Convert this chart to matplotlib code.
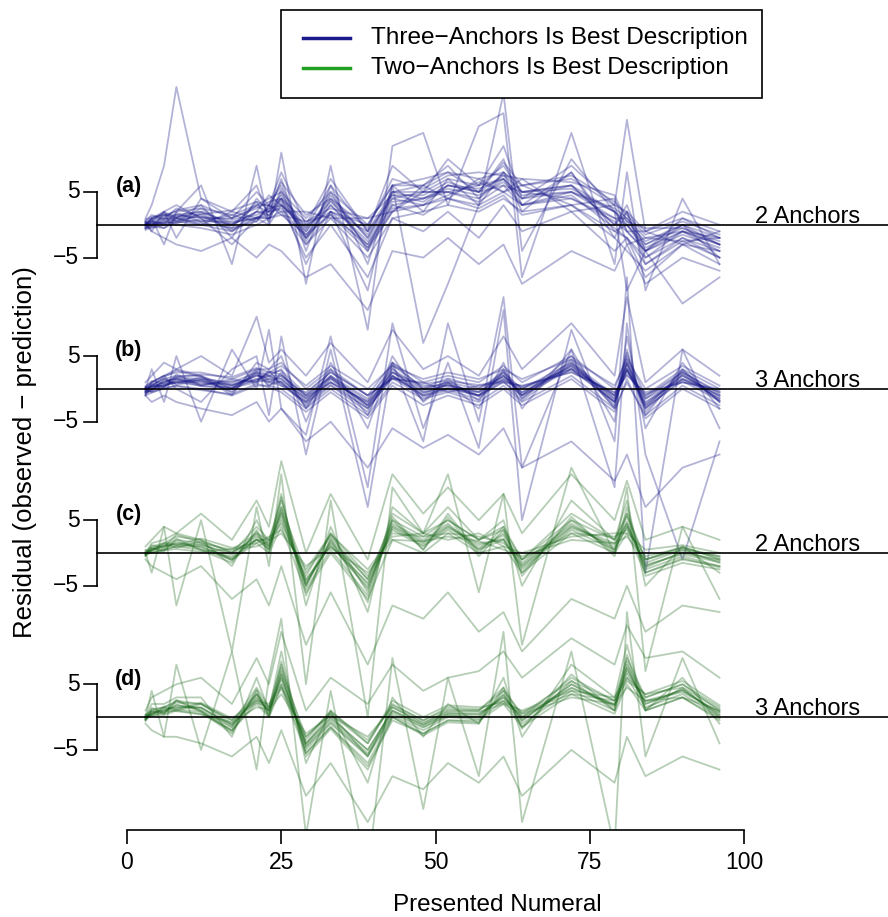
import matplotlib
matplotlib.use('Agg')
import matplotlib.pyplot as plt
from matplotlib.patches import Rectangle
from matplotlib.lines import Line2D

# presented numerals (x) shared by every residual curve
numerals = [3, 4, 6, 8, 12, 17, 21, 23, 25, 29, 33, 39, 43, 48, 52, 57, 61, 64, 72, 79, 81, 84, 90, 96]

# (a) three-anchor subjects, residuals from the 2-anchor model
panel_a = [
    [0.5, 1, 1.5, 1.5, 2, 0, 3, 3, 6, -2, 5, -4, 5, 5, 7, 6, 9, 5, 6, 0, 2, -5, -1, -4],
    [-0.5, -0.5, 0, 0, -0.5, -1.5, 0, 1, 2, -3, 1, -5, 1, 2, 3, 2, 4, 2, 3, -1, -2, -5, -2, -4],
    [0.8, 1.2, 1.5, 2, 2.5, 1.5, 3, 4, 5, 1, 5, 0, 6, 6, 8, 7, 8, 6, 7, 3, 2, -1, 1, -1],
    [0, 0, 1, 0.5, 1.5, -1, 2, 2, 4, -2, 3, -3, 3, 4, 5, 4, 7, 3, 5, 2, 0, -3, 0, -3],
    [-0.3, 0.5, 0.2, 1, 0.5, 0.5, 1, 1.5, 3, 0, 2, -1, 4, 3, 6, 5, 6, 5, 4, 1, 1, -2, -1, -2],
    [0.3, 0, 0.8, 1.5, 1, 1, 2.5, 3.5, 4, -1, 4, -2, 4, 5, 5, 6, 7, 4, 6, 2, -1, -4, -1, -3],
    [0, 1, 2, 1, 3, -2, 4, 2, 7, -4, 6, -6, 6, 7, 8, 5, 10, 3, 8, -2, 2, -6, -2, -5],
    [-0.8, -0.3, -0.5, 0.5, 0, -1, 1, 2, 2.5, -2, 2, -3.5, 2.5, 3, 4, 3, 5, 3, 4, 0.5, -1, -4, -1.5, -3.5],
    [0.2, 0.6, 1, 1, 1.2, 0.8, 1.5, 2.5, 4.5, -0.5, 3.5, -1.5, 4.5, 4.5, 6.5, 5, 7.5, 5, 5.5, 2, 0.5, -2.5, 0, -2],
    [0, -0.2, 0.3, 0.3, 0.8, 0, 2, 1.5, 3.5, -1.5, 3, -2.5, 3.5, 4, 5.5, 4.5, 6.5, 4, 5, 1, 0, -3.5, -1, -3],
    [1, 3, 9, 21, 4, 1, 5, 3, 8, 0, 7, -1, 9, 5, 10, 6, 12, 4, 9, 3, 16, -1, 2, 0],
    [0.5, -1, -2, -3, -4, -2, -5, -3, -4, -8, -6, -13, -4, -5, -2, -6, -3, -9, -4, -7, -3, -9, -5, -7],
    [-0.5, 0, 0.5, 1.2, 2, 0.3, 1, 2.5, 3, -1, 4.5, -2, 5, 4, 6, 5.5, 7, 4.5, 5, 2.5, 1, -3, -0.5, -2.5],
    [0, 1, -3, 2, 6, -6, 9, 0, 11, -9, 9, -16, 12, 14, 3, 15, 17, -8, 14, -6, 8, -10, 4, -6],
    [0.3, 0.5, 0.2, 1.8, 0.5, 1.5, 0.5, 3, 2, 2, 1, 1, 2, 6, 4, 7, 5, 6, 3, 4, -1, -1, -3, -1],
    [-0.2, 0.8, 1.8, 0.5, 2.5, -0.5, 3.5, 0.5, 5, -3, 2, 0, 6, 2, 7, 3, 8, 2, 8, -1, 0, -4, 0, -5],
    [0, 0.2, -0.5, 1, 0, 2, 1, 1, 1.5, 0.5, 1.5, -4, 2, 3, 4.5, 6.5, 5, 7, 2, 3, -3, -2, -2.5, -2],
    [0.6, 1.5, 0.8, 2.5, 1.2, 0, 2, 4.5, 3, -0.5, 6, -1, 5, 6, 9, 4, 8, 5, 6, 0, 3, -4, 1, -2],
    [-0.4, -0.2, 0.6, 0.2, 1.8, -0.8, 1.2, 1, 5.5, -2.5, 3.8, -3.5, 2, 5, 5, 3.5, 6, 3, 4.5, -0.5, -2, -6, -2.5, -5],
    [0.1, 0.9, 1.2, 2.2, 3, 1, 2.8, 2, 4, 0.5, 2.5, 1, 4.5, 3.5, 6, 5, 9.5, 6, 7.5, 3.5, 1.5, -1.5, 0.5, -1.5],
    [-0.6, 0.4, 0, 0.8, 0.3, -0.5, 0.5, 3, 1.5, -1.5, 1.5, -3, 3, 1.5, 4, 2.5, 4.5, 1.5, 3, -2, -4, -7, -3, -6],
    [0.4, 0.1, 1.4, 1.2, 1.6, 2.2, 3.5, 2.8, 6.5, 1.5, 4, -0.5, 7, 5.5, 7.5, 8, 7.5, 7, 6.5, 4.5, 0.5, -0.5, -0.5, -3],
    [0, 0.5, 2, 3, 1, -3, 1, 0, 3, -5, 0, -8, 1, -1, 2, -2, 3, -1, 2, -4, -2, -8, -3, -4],
    [0, -1, 2, -2, 4, 2, 6, 1, 4, -6, 2, -10, 6, -18, -9, 3, 20, -4, 10, 2, -10, -4, -12, -8],
]

# (b) three-anchor subjects, residuals from the 3-anchor model
panel_b = [
    [-0.4, 0.5, 1.5, 2, 2, 0, 3, 2, 3, -3, 3, -4, 4, 0, 1, -1, 3, -1, 5, -3, 6, -4, 3, -2],
    [0, -0.5, 0, 0.5, 0, -1, 0.5, 0.5, 0, -3, 0, -4, 1, -1.5, -0.5, -2, 0.5, -2, 2, -3, 1, -4, 0.5, -2.5],
    [0.3, 1, 2, 2.5, 2.5, 1.5, 3, 3, 4, 0, 3, -1, 4, 1, 2, 1, 3.5, 1, 5, 0, 5, -1, 3, 0],
    [-0.8, 0, 0.5, 1, 1, 0, 1.5, 1, 0.5, -2, 1, -3, 2, -1, 0, -1, 1, -1, 3, -2, 3, -3, 1.5, -1.5],
    [-0.2, 0.3, 1, 1.8, 1.5, 1, 2.5, 2, 2, -1, 2, -1.5, 3, 0, 1, 0, 2.5, 0, 4, -1, 4, -1.5, 2.5, -0.5],
    [-0.5, -0.2, 0.8, 1, 0.5, 0.2, 1, 1.5, 1, -2.5, 1.5, -2.5, 2, -0.5, 0.5, -1, 2, -0.5, 3, -2, 3, -2.5, 2, -1],
    [-1, 1, 2, 3, 2, -1, 4, 3, 5, -5, 4, -6, 5, -2, 1, -3, 4, -3, 6, -5, 8, -6, 4, -3],
    [0, 0.5, 0.5, 1, 1.5, 0.5, 2, 1.5, 1.5, -1.5, 1, -2, 2.5, -0.5, 0, -0.5, 1.5, -0.5, 3.5, -1.5, 3, -2, 1.5, -1],
    [-0.6, 0, 1.2, 1.5, 0.8, 0.8, 1.5, 2, 1, -2, 2, -2.5, 2.5, 0.5, 0.5, -0.5, 2, -1, 3.5, -2, 4, -2.5, 2, -1.5],
    [0.2, 0.2, 0.6, 1.2, 1.2, 0.2, 2.2, 1, 2, -1.2, 1, -2, 2, -1, 0.2, -1, 1.5, 0, 3, -1, 3, -1.5, 1.5, -0.5],
    [1, 2, 4, 3, 5, 2, 11, 4, 6, 2, 7, 1, 9, 3, 5, 2, 8, 3, 10, 2, 14, 1, 6, 2],
    [-1, -2, -1, -2, -3, -4, -2, -5, -3, -8, -5, -12, -6, -9, -7, -10, -6, -12, -8, -14, -10, -18, -12, -10],
    [0, 3, -2, 5, -5, 6, 0, 9, -3, -7, 8, -15, 10, -6, 4, -9, 12, -20, 9, -8, 17, -28, 6, -6],
    [-0.3, 0.2, 1, 1.6, 1.2, 0.5, 2, 1.8, 1.6, -1.8, 1.6, -2.4, 2.6, -0.2, 0.6, -0.4, 2.2, -0.8, 3.8, -1.4, 3.8, -2.2, 2.2, -1.2],
    [0.2, 0.8, 0.3, 2.2, 0.5, 1.5, 1, 2.8, 0.5, -0.5, 2.5, -1, 1.5, 1, -0.5, 0.5, 1, 0.5, 2.5, -0.5, 2, -0.5, 1, 0],
    [-0.7, -0.3, 1.4, 0.8, 1.8, -0.6, 2.6, 0.3, 2.5, -2.8, 0.5, -3.5, 3.2, -1.8, 1.5, -1.8, 2.8, -1.5, 4.5, -2.5, 4.5, -3, 2.8, -2],
    [0.1, 0.5, 0.2, 1.6, 0.6, 1.2, 1.2, 2.4, 2.8, -0.8, 2.6, -1, 1.6, 0.8, 1.2, 0.6, 1.2, 0.4, 2.6, -0.6, 2.2, -0.8, 1, -0.2],
    [-0.5, 0.6, 1.6, 0.6, 1.4, -0.4, 2.8, 1.2, 0.8, -2.2, 0.6, -3, 1.6, -1.2, -0.2, -1.6, 2.6, -1.4, 4.2, -2.8, 5.5, -3.5, 2.4, -1.8],
    [0.4, 1.2, 0.8, 1.8, 2.2, 1.8, 3.2, 2.5, 3.5, 0.5, 3.5, 0, 3.5, 1.5, 2.5, 1.5, 3, 1.5, 4.5, 0.5, 4.5, 0, 3.5, 0.5],
    [-1, -0.6, 0.2, 0.4, -0.2, -0.8, 0.8, 0.2, -0.5, -3.5, -0.5, -4.5, 0.5, -2.5, -1, -2.5, 0, -2.5, 1.5, -3.5, 1.5, -4.5, 0, -3],
    [0, 0.4, 1.8, 2.8, 1.8, 0.6, 1.2, 2.6, 2.2, -1, 1.8, -1.8, 3.6, 0.2, 1.6, 0.2, 1.8, 0.2, 3.2, -1, 2.6, -1.2, 2.6, -0.8],
    [-0.3, -0.4, 0.4, 1.4, 0.4, 0, 2.4, 0.6, 1.2, -1.4, 1.8, -2.8, 1.8, -0.8, 0.8, -1.2, 1.2, -1.8, 3.8, -1.8, 3.6, -2.8, 1.2, -1.8],
    [0, 1, 2, 0, -2, 3, 5, -4, 8, -10, 6, -18, 4, -8, 10, -5, 14, -12, 6, -15, 10, -10, -26, -8],
]

# (c) two-anchor subjects, residuals from the 2-anchor model
panel_c = [
    [-0.2, 1, 1.5, 2.5, 2, 0, 4, 2, 8, -5, 3, -6, 6, 3, 5, 2, 4, -1, 6, 2, 6, -1, 1, -1],
    [0, 0, 0.5, 1, 0.5, -1, 1.5, 0, 4, -6, 0, -7, 2, 0, 3, 0, 1, -3, 3, 0, 3, -3, -1, -2],
    [0.3, 0.8, 1.2, 2, 1.5, 0.5, 3, 2, 7, -3, 2.5, -4, 5, 2.5, 5, 2, 3.5, -1, 5, 2, 5.5, -1, 0.5, -0.5],
    [-0.5, 0.2, 0.5, 1, 1, -1, 2, 0.5, 5, -4, 1, -4.5, 3.5, 1, 3.5, 0.5, 2, -2.5, 3.5, 0.5, 4, -2.5, -0.5, -2],
    [0, 1.5, 2, 3, 2, -2, 5, 1, 9, -8, 4, -9, 7, 3, 7, 2, 5, -5, 8, 2, 8, -5, 1, -3],
    [-0.3, 0.4, 1, 1.2, 1.2, 0, 2.5, 1.5, 6, -4.5, 1.5, -5.5, 4, 1.5, 4, 1.5, 2, -2, 4, 1.5, 4.5, -2, 0, -1],
    [0, 0.6, 0.6, 1.8, 0.6, -0.6, 2, 1.2, 5.5, -5, 2, -4, 4.5, 2, 4.5, 0.5, 3, -1.5, 4.5, 0.5, 4, -1.5, 0.5, -1.5],
    [1, 2, 4, 3, 6, 2, 8, 4, 14, 0, 9, -1, 12, 6, 10, 5, 9, 3, 12, 5, 11, 2, 4, 2],
    [-1, -2, -3, -4, -2, -7, -4, -8, -2, -14, -6, -17, -8, -10, -6, -12, -9, -15, -7, -10, -5, -12, -8, -9],
    [0, -3, 4, -8, 5, -15, 7, -2, 12, -20, 8, -25, 10, 3, 12, -6, 9, -14, 13, 0, 10, -18, 4, -7],
    [-0.2, 0.5, 1, 1.5, 1.3, -0.3, 2.8, 1, 6.5, -4.2, 1.2, -5.2, 3.8, 1.2, 3.8, 1.2, 2.2, -2.2, 3.8, 1.2, 4.8, -2.2, 0.2, -1.2],
    [0.2, 0.3, 1.4, 0.8, 1.8, 0.2, 2, 2, 4.5, -3.5, 3, -3.5, 3, 2.5, 3, 2.5, 1.5, -1, 3, 2.5, 3.5, -0.5, 0.8, -0.5],
    [-0.4, 0.8, 0.2, 2.2, 0.4, -1.5, 3.5, 0.5, 7, -5.5, 0.5, -6.5, 5, 0.5, 5.5, -0.5, 3.5, -3, 5, 0, 6, -3, -0.8, -2.2],
    [0, 0.4, 1.6, 1.2, 2.2, 0.8, 1.5, 2.5, 3.5, -2.5, 2.8, -2.5, 2.5, 3, 2, 3, 1, 0, 2.5, 3, 3, 0.5, 1.2, 0],
    [-0.1, 1.2, 0.8, 2.8, 1.6, -1.2, 3.2, 0, 8.5, -6.5, 2.2, -7.5, 5.5, 0.5, 6, 0, 4, -3.5, 5.5, -0.5, 7, -3.5, -1.5, -2.5],
    [0.5, 0, 0.4, 0.6, 0.2, 0.6, 1, 1.8, 3, -2, 0.8, -3, 2, 1.8, 2.5, 1.8, 0.5, -0.5, 2, 1.5, 2.5, -1, 0.8, -0.8],
    [-0.3, 0.6, 1.1, 1.4, 0.9, -0.8, 2.2, 0.7, 6.2, -4.8, 1.7, -4.8, 4.2, 1.7, 4.2, 0.8, 2.7, -1.8, 4.2, 0.8, 4.4, -1.8, -0.2, -1.4],
]

# (d) two-anchor subjects, residuals from the 3-anchor model
panel_d = [
    [-0.3, 1.2, 1.5, 2.5, 2, -1, 4.5, 1.5, 8, -4, 0.5, -6, 1.5, -1, 1, 1, 4.5, 0, 6, 2.5, 9, 3, 5, 1],
    [0, 0.2, 0.3, 1, 0.5, -2, 2, 0, 4.5, -5.5, -1.5, -7, 0, -2.5, -0.5, -0.5, 2, -1.5, 3.5, 0.5, 5, 1, 3, -0.5],
    [0.3, 1, 1.5, 2.2, 2, -0.5, 3.5, 1.5, 7, -3, 0.5, -4, 2, -0.5, 1.2, 1, 4, 0.5, 5.5, 2.5, 8, 3, 5, 1.5],
    [-0.6, 0.5, 0.5, 1.2, 0.8, -2, 2.5, 0.2, 5, -5, -1, -6, 0.2, -2, 0, -0.3, 2.5, -1, 4, 1, 6, 1.5, 3.5, 0],
    [0, 2, 2, 3, 3, -3, 6, 1, 10, -7, 1, -10, 3, -3, 2, -1, 6, -3, 8, 3, 11, 1, 6, -1],
    [-0.3, 0.6, 1, 1.5, 1.5, -1.2, 3, 1, 6, -4.2, 0, -5, 1, -1.2, 0.5, 0.5, 3, 0, 4.5, 2, 7, 2.5, 4, 0.8],
    [0, 0.8, 0.7, 1.9, 1, -1.6, 3.4, 0.5, 6.5, -4.6, -0.8, -5.8, 0.5, -1.6, 0.2, 0, 3.4, -0.6, 5, 1.5, 7.5, 2, 4.2, 0.3],
    [1, 3, 4, 5, 6, 2, 9, 5, 13, 1, 6, 2, 8, 4, 6, 7, 10, 6, 12, 8, 14, 9, 10, 6],
    [-1, -2, -3, -3, -4, -6, -3, -7, -2, -12, -7, -16, -9, -11, -7, -10, -6, -12, -5, -10, -3, -9, -6, -8],
    [0, 4, -3, 8, -5, 10, -8, 6, 15, -18, 4, -24, 9, -14, 6, -9, 13, -16, 10, -20, 16, -6, 9, -4],
    [-0.3, 0.5, 1.2, 1.5, 1.4, -1.2, 2.8, 1, 5.8, -4, -0.2, -5, 1, -1.2, 0.6, 0.4, 3, -0.2, 4.4, 1.8, 6.6, 2.4, 3.8, 0.7],
    [0.2, 0.4, 1.4, 1, 2, -0.5, 2.2, 1.5, 4.5, -3, 0.8, -3.5, 1.8, -0.5, 1.5, 1.2, 2.5, 0.8, 3.5, 2.5, 5.5, 3.5, 4.5, 1.2],
    [-0.5, 1, 0.5, 2.5, 0.8, -2.5, 4, 0, 7.5, -5.5, -1.5, -7.5, -0.5, -2.5, -0.5, -0.8, 4, -1.5, 5.5, 1, 8.5, 1, 3, -0.2],
    [0, 0.3, 1.6, 1.2, 2.2, -0.2, 2.5, 2, 5, -3.5, 1, -4, 2.5, 0, 1.8, 1.5, 2.2, 1, 4, 3, 6, 3.5, 5.5, 1.8],
    [-0.2, 1.4, 0.6, 2.6, 1, -2.2, 4.2, 0.3, 8.5, -6, -1.8, -8, 0, -2.8, -0.8, -1, 4.5, -1.8, 6.5, 1, 9.5, 1.2, 4.5, 0],
    [0.4, 0.1, 0.9, 0.9, 0.4, -0.8, 1.5, 1.2, 3.5, -2.5, 0.2, -3, 1.5, -0.8, 0.8, 0.8, 2, 0.5, 3, 2, 4.5, 2.5, 3, 1],
    [-0.4, 0.8, 1, 1.8, 1.4, -1.5, 3.5, 0.8, 6.5, -4.5, -0.5, -5.5, 0.8, -1.5, 0.3, 0.1, 3.4, -0.5, 5, 1.8, 7.5, 2, 4.2, 0.4],
]

panel_tags = ['(a)', '(b)', '(c)', '(d)']
model_labels = ['2 Anchors', '3 Anchors', '2 Anchors', '3 Anchors']
legend_labels = ['Three\u2212Anchors Is Best Description', 'Two\u2212Anchors Is Best Description']
x_ticks = [0, 25, 50, 75, 100]

BLUE = '#1a1a8a'
GREEN = '#1f6b1f'
W, H = 888, 917


def main():
    plt.rcParams['font.family'] = ['Liberation Sans', 'DejaVu Sans']

    fig = plt.figure(figsize=(W / 100, H / 100), dpi=100)
    ax = fig.add_axes([97 / W, 1 - 830 / H, 1 - 97 / W, (830 - 83) / H])
    x0, x1 = -4.86, 123.3
    ax.set_xlim(x0, x1)
    ax.set_ylim(-17.2, 96.6)

    panels = [panel_a, panel_b, panel_c, panel_d]
    colours = [BLUE, BLUE, GREEN, GREEN]
    offsets = [75, 50, 25, 0]

    for panel, colour, off, tag, model in zip(panels, colours, offsets, panel_tags, model_labels):
        for curve in panel:
            ax.plot(numerals, [v + off for v in curve], color=colour, alpha=0.33, lw=1.3)
        # zero line and the little -5..5 bracket
        ax.plot([x0, x1], [off, off], color='black', lw=1.2, zorder=3, clip_on=False)
        ax.plot([x0, x0], [off - 5, off + 5], color='black', lw=1.2, clip_on=False)
        for yv in (off - 5, off + 5):
            ax.plot([x0 - 2.1, x0], [yv, yv], color='black', lw=1.2, clip_on=False)
        ax.text(-7.7, off + 5, '5', ha='right', va='center', fontsize=16.5)
        ax.text(-7.7, off - 5, '\u22125', ha='right', va='center', fontsize=16.5)
        ax.text(0.3, off + 5.8, tag, ha='center', va='center', fontsize=15.5, fontweight='bold')
        ax.text(101.8, off + 0.3, model, ha='left', va='baseline', fontsize=17)

    for side in ['top', 'right', 'left']:
        ax.spines[side].set_visible(False)
    ax.spines['bottom'].set_bounds(0, 100)
    ax.spines['bottom'].set_linewidth(1.2)
    ax.set_xticks(x_ticks)
    ax.set_yticks([])
    ax.tick_params(axis='x', length=10, width=1.2, pad=5, labelsize=16.5)

    fig.text(497 / W, 1 - 905 / H, 'Presented Numeral', ha='center', va='center', fontsize=17.5)
    fig.text(25 / W, 1 - 452 / H, 'Residual (observed \u2212 prediction)', rotation=90,
             ha='center', va='center', fontsize=18.5)

    # legend box drawn by hand so it sits exactly where the original has it
    box = Rectangle((281 / W, 1 - 98 / H), (762 - 281) / W, (98 - 10) / H, transform=fig.transFigure,
                    facecolor='white', edgecolor='black', lw=1.2, zorder=10)
    fig.add_artist(box)
    for ypix, colour, label in zip([38, 68], ['#1a1a8c', '#22a022'], legend_labels):
        fig.add_artist(Line2D([303 / W, 350 / W], [1 - ypix / H, 1 - ypix / H], transform=fig.transFigure,
                              color=colour, lw=2.5, zorder=11))
        fig.text(371 / W, 1 - ypix / H, label, ha='left', va='center', fontsize=17.6, zorder=11)

    fig.savefig('out.png', dpi=100)


if __name__ == '__main__':
    main()
